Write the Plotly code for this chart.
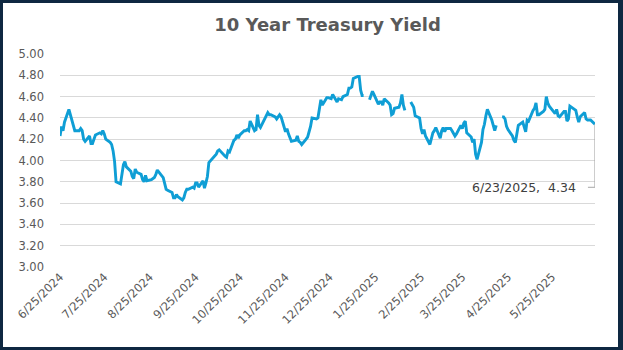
import pandas as pd
import plotly.graph_objects as go

# Daily 10-year Treasury constant-maturity yield (%), by month.
# None marks market holidays that appear as blank rows (gap in the line).
yld_2024_06 = [4.23, 4.32, 4.28, 4.36]
yld_2024_07 = [4.48, 4.43, 4.36, 4.28, 4.28, 4.30, 4.28, 4.20, 4.18, 4.23, 4.16,
               4.16, 4.20, 4.24, 4.26, 4.25, 4.28, 4.25, 4.20, 4.17, 4.15, 4.09]
yld_2024_08 = [3.99, 3.80, 3.78, 3.90, 3.96, 3.99, 3.94, 3.90, 3.85, 3.83, 3.92,
               3.89, 3.87, 3.82, 3.80, 3.86, 3.81, 3.82, 3.83, 3.84, 3.87, 3.91]
yld_2024_09 = [3.84, 3.77, 3.73, 3.72, 3.70, 3.65, 3.65, 3.68, 3.66, 3.63,
               3.65, 3.70, 3.73, 3.73, 3.75, 3.74, 3.79, 3.79, 3.75, 3.81]
yld_2024_10 = [3.74, 3.79, 3.85, 3.98, 4.03, 4.04, 4.06, 4.09, 4.10, 4.04, 4.03,
               4.09, 4.08, 4.19, 4.20, 4.24, 4.21, 4.24, 4.28, 4.28, 4.29, 4.28]
yld_2024_11 = [4.37, 4.28, 4.29, 4.43, 4.33, 4.31, 4.43, 4.45, 4.43, 4.43,
               4.41, 4.39, 4.41, 4.43, 4.41, 4.27, 4.30, 4.25, 4.18]
yld_2024_12 = [4.19, 4.23, 4.18, 4.17, 4.15, 4.20, 4.22, 4.27, 4.32, 4.40, 4.39,
               4.40, 4.50, 4.57, 4.52, 4.59, 4.59, 4.58, 4.62, 4.55, 4.58]
yld_2025_01 = [4.57, 4.60, 4.62, 4.68, 4.68, 4.69, 4.77, 4.79, 4.79, 4.66, 4.61,
               4.61, None, 4.57, 4.61, 4.65, 4.62, 4.53, 4.55, 4.55, 4.52, 4.58]
yld_2025_02 = [4.54, 4.52, 4.43, 4.44, 4.49, 4.50, 4.54, 4.62, 4.52, 4.47,
               None, 4.55, 4.53, 4.50, 4.42, 4.40, 4.30, 4.25, 4.29, 4.23]
yld_2025_03 = [4.15, 4.22, 4.26, 4.28, 4.31, 4.21, 4.28, 4.31, 4.27, 4.30, 4.30,
               4.28, 4.25, 4.23, 4.25, 4.33, 4.30, 4.35, 4.37, 4.26, 4.22]
yld_2025_04 = [4.17, 4.20, 4.06, 4.01, 4.17, 4.29, 4.34, 4.42, 4.48, 4.38, 4.33,
               4.28, 4.33, None, 4.41, 4.41, 4.39, 4.32, 4.29, 4.23, 4.19, 4.17]
yld_2025_05 = [4.25, 4.33, 4.36, 4.30, 4.27, 4.38, 4.37, 4.47, 4.49, 4.54, 4.43,
               4.43, 4.46, 4.48, 4.60, 4.54, 4.51, 4.44, 4.48, 4.42, 4.41]
yld_2025_06 = [4.46, 4.46, 4.37, 4.39, 4.51, 4.48, 4.47, 4.41, 4.36, 4.41,
               4.45, 4.39, 4.38, 4.38, 4.34]

# Holidays with no row at all in the series (not drawn as gaps)
no_row_days = ["2024-07-04", "2024-09-02", "2024-10-14", "2024-11-11", "2024-11-28",
               "2024-12-25", "2025-01-01", "2025-05-26", "2025-06-19"]

start_date, end_date = "2024-06-25", "2025-06-23"
# monthly ticks on the 25th, June 2024 through May 2025
tick_dates = pd.date_range("2024-06-01", "2025-05-01", freq="MS") + pd.Timedelta(days=24)
tick_labels = [f"{d.month}/{d.day}/{d.year}" for d in tick_dates]

yields = (yld_2024_06 + yld_2024_07 + yld_2024_08 + yld_2024_09 + yld_2024_10 +
          yld_2024_11 + yld_2024_12 + yld_2025_01 + yld_2025_02 + yld_2025_03 +
          yld_2025_04 + yld_2025_05 + yld_2025_06)
dates = pd.bdate_range(start_date, end_date)
dates = dates[~dates.isin(pd.to_datetime(no_row_days))]
assert len(dates) == len(yields), (len(dates), len(yields))

# tiny padding so the first month tick sits inside the axis range
pad = pd.Timedelta(hours=1)
x_range = [pd.Timestamp(start_date) - pad, pd.Timestamp(end_date) + pad]

W, H = 623, 350
ML, MR, MT, MB = 60, 28, 54, 83
PW, PH = W - ML - MR, H - MT - MB

TEXT = "#595959"
FONT = "DejaVu Sans"
NAVY = "#0E2841"

fig = go.Figure()
fig.add_trace(go.Scatter(
    x=dates, y=yields, mode="lines", connectgaps=False,
    line=dict(color="#0F9ED5", width=2.9), hoverinfo="skip", showlegend=False,
))

def px_x(p):
    return (p - ML) / PW

def px_y(p):
    return 1 - (p - MT) / PH

# Frame around the whole chart
frame = [(0, 0, W, 3), (0, H - 3, W, H), (0, 0, 3, H), (W - 5, 0, W, H)]
shapes = [dict(type="rect", xref="paper", yref="paper", layer="above",
               x0=px_x(a), x1=px_x(c), y0=px_y(d), y1=px_y(b),
               fillcolor=NAVY, line=dict(width=0)) for a, b, c, d in frame]

# Data label for the latest observation with an elbow leader line
last_x, last_y = dates[-1], yields[-1]
drop, tail = 63, 7
leader = dict(color="#A6A6A6", width=1)
shapes += [
    dict(type="line", xref="x", yref="y", xsizemode="pixel", ysizemode="pixel",
         xanchor=last_x, yanchor=last_y, x0=0, x1=0, y0=0, y1=-drop, line=leader),
    dict(type="line", xref="x", yref="y", xsizemode="pixel", ysizemode="pixel",
         xanchor=last_x, yanchor=last_y, x0=0, x1=-tail, y0=-drop, y1=-drop, line=leader),
]
label = f"{last_x.month}/{last_x.day}/{last_x.year},  {last_y:.2f}"

fig.update_layout(
    width=W, height=H,
    margin=dict(l=ML, r=MR, t=MT, b=MB, pad=0),
    paper_bgcolor="white", plot_bgcolor="white",
    title=dict(text="<b>10 Year Treasury Yield</b>", x=0.5, xref="paper", xanchor="center",
               y=1 - 25 / H, yref="container", yanchor="middle",
               font=dict(family=FONT, size=18, color=TEXT)),
    xaxis=dict(type="date", range=x_range, tickvals=tick_dates,
               ticktext=tick_labels, tickangle=-45, showgrid=False, zeroline=False,
               showline=False, ticks="", ticklabeloverflow="allow",
               tickfont=dict(family=FONT, size=11.5, color=TEXT)),
    yaxis=dict(range=[3, 5], dtick=0.2, tick0=3, tickformat=".2f", showgrid=True,
               gridcolor="#D9D9D9", gridwidth=1, zeroline=False, showline=False,
               ticks="", ticklabelstandoff=15,
               tickfont=dict(family=FONT, size=11.5, color=TEXT)),
    shapes=shapes,
    annotations=[dict(x=last_x, y=last_y, xref="x", yref="y", text=label,
                      showarrow=False, xanchor="right", yanchor="middle",
                      xshift=-tail - 10, yshift=-drop,
                      font=dict(family=FONT, size=12.5, color="#404040"))],
)

fig.write_html("out.html", config={"displayModeBar": False})
